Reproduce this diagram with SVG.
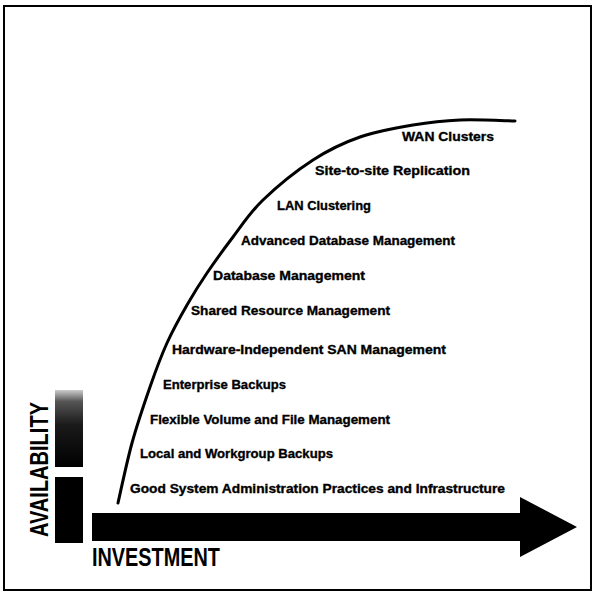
<svg xmlns="http://www.w3.org/2000/svg" width="593" height="593" viewBox="0 0 593 593">
  <style>
    .lbl { font-family: "Liberation Sans", Arial, sans-serif; font-weight: bold; font-size: 13px; fill: #000; stroke: #000; stroke-width: 0.35px; }
    .axis { font-family: "Liberation Sans", Arial, sans-serif; font-weight: bold; font-size: 25px; fill: #000; }
  </style>
  <defs>
    <linearGradient id="fade" x1="0" y1="1" x2="0" y2="0">
      <stop offset="0" stop-color="#000"/>
      <stop offset="0.55" stop-color="#1a1a1a"/>
      <stop offset="0.85" stop-color="#555"/>
      <stop offset="1" stop-color="#ccc"/>
    </linearGradient>
  </defs>

  <rect width="593" height="593" fill="#fff"/>
  <!-- outer frame -->
  <rect x="4" y="6" width="587" height="584" fill="none" stroke="#000" stroke-width="2"/>

  <!-- availability axis: shaded bar and label -->
  <g id="availability-axis">
    <rect x="55" y="390" width="28" height="77" fill="url(#fade)"/>
    <rect x="55" y="477" width="28" height="66" fill="#000"/>
    <text class="axis" transform="translate(48,537) rotate(-90)" textLength="135" lengthAdjust="spacingAndGlyphs">AVAILABILITY</text>
  </g>

  <!-- investment axis: wide arrow and label -->
  <g id="investment-axis">
    <polygon points="92,513 520,513 520,497 577,527 520,557 520,541 92,541" fill="#000"/>
    <text class="axis" x="92" y="566" textLength="128" lengthAdjust="spacingAndGlyphs">INVESTMENT</text>
  </g>

  <!-- availability-vs-investment curve -->
  <g id="connectors">
    <path d="M118,503 C120.3,493 126.7,462.3 132,443 C137.3,423.7 144.2,403.7 150,387 C155.8,370.3 160.8,356.7 167,343 C173.2,329.3 180.3,316.7 187,305 C193.7,293.3 199.3,284.3 207,273 C214.7,261.7 223.7,249.2 233,237 C242.3,224.8 249.7,212.8 263,200 C276.3,187.2 296.8,170.5 313,160 C329.2,149.5 343.3,142.8 360,137 C376.7,131.2 396.3,127.8 413,125 C429.7,122.2 443,120.7 460,120 C477,119.3 505.8,120.8 515,121" fill="none" stroke="#000" stroke-width="3" stroke-linecap="round"/>
  </g>

  <!-- tiers along the curve -->
  <g id="wan-clusters"><text class="lbl" x="402" y="141" textLength="92" lengthAdjust="spacingAndGlyphs">WAN Clusters</text></g>
  <g id="site-replication"><text class="lbl" x="315" y="175" textLength="155" lengthAdjust="spacingAndGlyphs">Site-to-site Replication</text></g>
  <g id="lan-clustering"><text class="lbl" x="277" y="210" textLength="94" lengthAdjust="spacingAndGlyphs">LAN Clustering</text></g>
  <g id="advanced-db"><text class="lbl" x="241" y="245" textLength="214" lengthAdjust="spacingAndGlyphs">Advanced Database Management</text></g>
  <g id="db-management"><text class="lbl" x="213" y="280" textLength="152" lengthAdjust="spacingAndGlyphs">Database Management</text></g>
  <g id="shared-resource"><text class="lbl" x="191" y="315" textLength="199" lengthAdjust="spacingAndGlyphs">Shared Resource Management</text></g>
  <g id="san-management"><text class="lbl" x="172" y="354" textLength="274" lengthAdjust="spacingAndGlyphs">Hardware-Independent SAN Management</text></g>
  <g id="enterprise-backups"><text class="lbl" x="163" y="389" textLength="123" lengthAdjust="spacingAndGlyphs">Enterprise Backups</text></g>
  <g id="volume-file"><text class="lbl" x="150" y="424" textLength="240" lengthAdjust="spacingAndGlyphs">Flexible Volume and File Management</text></g>
  <g id="workgroup-backups"><text class="lbl" x="140" y="458" textLength="193" lengthAdjust="spacingAndGlyphs">Local and Workgroup Backups</text></g>
  <g id="good-practices"><text class="lbl" x="130" y="493" textLength="375" lengthAdjust="spacingAndGlyphs">Good System Administration Practices and Infrastructure</text></g>
</svg>
